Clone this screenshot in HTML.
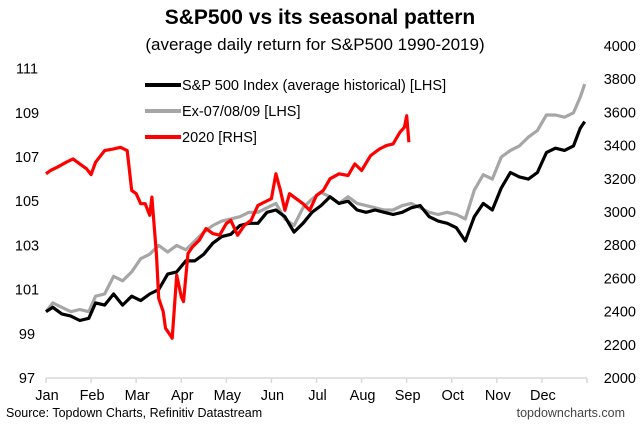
<!DOCTYPE html>
<html><head><meta charset="utf-8"><style>
body{margin:0;background:#fff}
svg{display:block;font-family:"Liberation Sans",Arial,sans-serif}
</style></head><body>
<svg id="chart" width="640" height="429" viewBox="0 0 640 429" xmlns="http://www.w3.org/2000/svg">
<text x="320" y="24" text-anchor="middle" font-size="21" font-weight="bold">S&amp;P500 vs its seasonal pattern</text>
<text x="315" y="50" text-anchor="middle" font-size="17">(average daily return for S&amp;P500 1990-2019)</text>
<g id="axes"></g>
<g id="series"></g>
<g>
<line x1="145" y1="85" x2="181" y2="85" stroke="#000" stroke-width="4"/>
<text x="182" y="90" font-size="14.5">S&amp;P 500 Index (average historical) [LHS]</text>
<line x1="145" y1="111" x2="181" y2="111" stroke="#a6a6a6" stroke-width="4"/>
<text x="182" y="116" font-size="14.5">Ex-07/08/09 [LHS]</text>
<line x1="145" y1="137" x2="181" y2="137" stroke="#ff0000" stroke-width="4"/>
<text x="182" y="142" font-size="14.5">2020 [RHS]</text>
</g>
<text x="6" y="417" font-size="12.5">Source: Topdown Charts, Refinitiv Datastream</text>
<text x="625" y="417" text-anchor="end" font-size="12.5" fill="#444">topdowncharts.com</text>
</svg>
<script>
const months=["Jan","Feb","Mar","Apr","May","Jun","Jul","Aug","Sep","Oct","Nov","Dec"];
const leftTicks=[97,99,101,103,105,107,109,111];
const rightTicks=[2000,2200,2400,2600,2800,3000,3200,3400,3600,3800,4000];
// x positions in months (0 = Jan 1)
const avgT=[0,0.15,0.35,0.55,0.75,0.95,1.1,1.3,1.5,1.7,1.9,2.1,2.3,2.5,2.7,2.9,3.1,3.3,3.5,3.7,3.9,4.1,4.3,4.5,4.7,4.9,5.1,5.3,5.5,5.7,5.9,6.1,6.3,6.5,6.7,6.9,7.1,7.3,7.5,7.7,7.9,8.1,8.3,8.5,8.7,8.9,9.1,9.3,9.5,9.7,9.9,10.1,10.3,10.5,10.7,10.9,11.1,11.3,11.5,11.7,11.85,11.95];
const avgV=[100,100.2,99.9,99.8,99.6,99.7,100.4,100.3,100.8,100.3,100.7,100.5,100.8,101.0,101.7,101.8,102.3,102.3,102.6,103.1,103.4,103.5,103.9,104.0,104.0,104.5,104.6,104.3,103.6,104.0,104.5,104.8,105.2,104.9,105.0,104.6,104.5,104.6,104.5,104.4,104.5,104.7,104.8,104.3,104.1,104.0,103.8,103.2,104.3,104.9,104.6,105.6,106.3,106.1,106.0,106.3,107.2,107.4,107.3,107.5,108.3,108.6];
const exV=[100,100.4,100.2,100.0,100.1,100.0,100.7,100.8,101.6,101.4,101.8,102.4,102.6,103.0,102.7,103.0,102.8,103.2,103.6,103.9,104.1,104.2,104.3,104.5,104.5,104.7,104.9,104.2,103.9,104.7,105.1,105.4,105.2,104.9,105.2,104.9,104.8,104.7,104.6,104.6,104.8,104.9,104.7,104.5,104.4,104.5,104.4,104.2,105.5,106.2,106.0,107.0,107.3,107.5,107.9,108.2,108.9,108.9,108.8,109.0,109.7,110.3];
const redT=[0,0.1,0.25,0.45,0.6,0.75,0.9,1.0,1.1,1.3,1.5,1.65,1.8,1.9,2.0,2.1,2.2,2.3,2.35,2.45,2.5,2.6,2.65,2.75,2.8,2.9,3.0,3.05,3.15,3.25,3.4,3.55,3.7,3.85,4.0,4.1,4.25,4.4,4.55,4.7,4.85,5.0,5.1,5.2,5.3,5.4,5.55,5.7,5.85,6.0,6.15,6.3,6.5,6.7,6.85,7.0,7.2,7.4,7.55,7.7,7.85,7.95,8.0,8.05];
const redV=[3230,3250,3270,3300,3320,3290,3260,3225,3300,3370,3380,3390,3370,3130,3110,3050,3050,2980,3090,2740,2480,2400,2300,2260,2240,2620,2490,2460,2750,2790,2830,2900,2870,2860,2930,2950,2860,2920,2950,3040,3060,3080,3230,3130,3010,3110,3080,3050,3010,3100,3130,3200,3230,3220,3290,3250,3340,3380,3400,3410,3480,3510,3580,3420];
const NS="http://www.w3.org/2000/svg";
const X0=46,X1=587,Y0=378;
function xs(m){return X0+(X1-X0)*m/12;}
function yl(v){return Y0-(v-97)*22.1;}
function yr(v){return Y0-(v-2000)*0.166;}
const axes=document.getElementById('axes'),ser=document.getElementById('series');
function mk(tag,attrs,parent){const e=document.createElementNS(NS,tag);for(const k in attrs)e.setAttribute(k,attrs[k]);parent.appendChild(e);return e;}
const base=mk('line',{x1:X0,y1:Y0,x2:X1,y2:Y0,stroke:'#d9d9d9','stroke-width':1.5},axes);


for(let i=0;i<=12;i++){const t=mk('line',{x1:xs(i),y1:Y0,x2:xs(i),y2:Y0+5,stroke:'#d9d9d9','stroke-width':1.5},axes);

}
months.forEach((m,i)=>{const t=mk('text',{x:xs(i)+1,y:400,'text-anchor':'middle','font-size':14.5},axes);t.textContent=m;

});
leftTicks.forEach(v=>{const t=mk('text',{x:27,y:yl(v)+5,'text-anchor':'middle','font-size':14.5},axes);t.textContent=v;

});
rightTicks.forEach(v=>{const t=mk('text',{x:636,y:yr(v)+5,'text-anchor':'end','font-size':14.5},axes);t.textContent=v;

});
function line(T,V,yf,color,name){const d=T.map((t,i)=>(i?'L':'M')+xs(t).toFixed(1)+','+yf(V[i]).toFixed(1)).join('');
const p=mk('path',{d:d,fill:'none',stroke:color,'stroke-width':3.2,'stroke-linejoin':'round'},ser);

}
line(avgT,exV,yl,'#a6a6a6','ex-070809-line');
line(avgT,avgV,yl,'#000','average-historical-line');
line(redT,redV,yr,'#ff0000','2020-line');
</script>
</body></html>
